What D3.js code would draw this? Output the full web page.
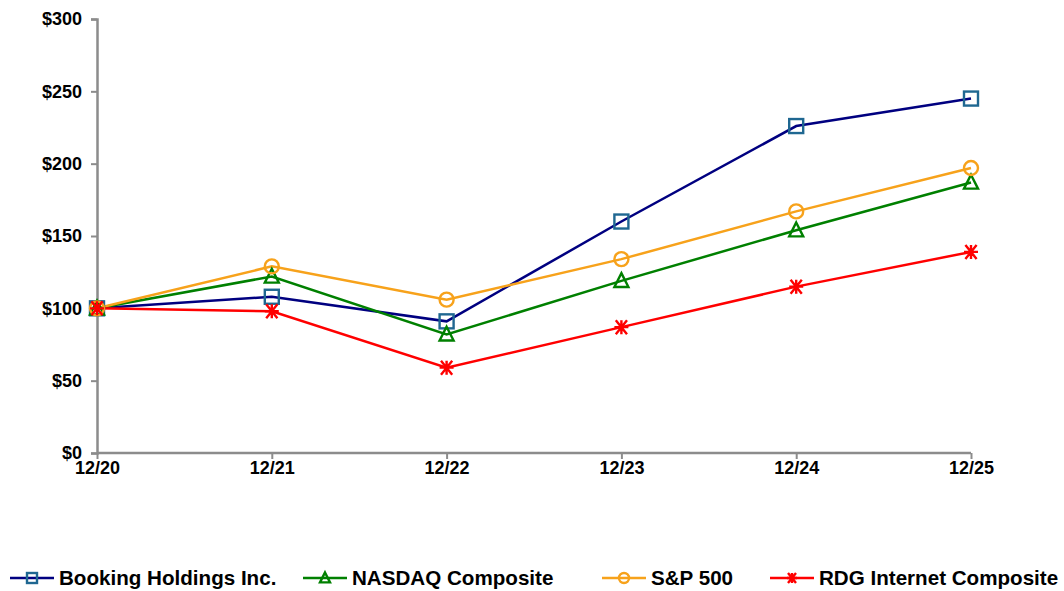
<!DOCTYPE html>
<html><head><meta charset="utf-8">
<script src="https://cdn.jsdelivr.net/npm/d3@7"></script>
<style>
html,body{margin:0;padding:0;background:#fff;}
text{font-family:"Liberation Sans",Arial,sans-serif;font-weight:bold;fill:#000;}
</style></head>
<body><svg id="chart" width="1064" height="591"></svg>
<script>
const categories = ["12/20","12/21","12/22","12/23","12/24","12/25"];
const booking = [100, 108, 91, 160, 226, 245];
const nasdaq  = [100, 122, 82, 119, 154, 187];
const sp500   = [100, 129, 106, 134, 167, 197];
const rdg     = [100, 98, 59, 87, 115, 139];
const yTicks  = [0, 50, 100, 150, 200, 250, 300];
const seriesNames = ["Booking Holdings Inc.", "NASDAQ Composite", "S&P 500", "RDG Internet Composite"];

const series = [
  {name: seriesNames[0], values: booking, line: "#000080", mark: "#1f6791", shape: "square"},
  {name: seriesNames[1], values: nasdaq,  line: "#008000", mark: "#008000", shape: "triangle"},
  {name: seriesNames[2], values: sp500,   line: "#f7a21b", mark: "#f7a21b", shape: "circle"},
  {name: seriesNames[3], values: rdg,     line: "#ff0000", mark: "#ff0000", shape: "star"}
];

const svg = d3.select("#chart");
const x = d3.scalePoint().domain(categories).range([97, 971]);
const y = d3.scaleLinear().domain([0, 300]).range([453, 19]);

const fontFam = "Liberation Sans, Arial, sans-serif";
const yAxis = d3.axisLeft(y).tickValues(yTicks).tickFormat(d => "$" + d).tickSize(6).tickPadding(9);
const gy = svg.append("g").attr("transform", "translate(97,0)").call(yAxis);
gy.select(".domain").attr("stroke", "#8c8c8c").attr("stroke-width", 2.5);
gy.selectAll(".tick line").attr("stroke", "#8c8c8c").attr("stroke-width", 2);
gy.selectAll(".tick text").style("font-size", "18px").style("font-weight", "bold").style("font-family", fontFam).attr("fill", "#000");

const xAxis = d3.axisBottom(x).tickSize(6).tickPadding(2);
const gx = svg.append("g").attr("transform", "translate(0,453)").call(xAxis);
gx.select(".domain").attr("stroke", "#8c8c8c").attr("stroke-width", 2.5).attr("d", "M97,0H971");
gx.selectAll(".tick line").attr("stroke", "#8c8c8c").attr("stroke-width", 2);
gx.selectAll(".tick text").style("font-size", "18px").style("font-weight", "bold").style("font-family", fontFam).attr("fill", "#000");

function drawMarker(g, shape, color, cx, cy, s) {
  if (shape === "square") {
    g.append("rect").attr("x", cx - s).attr("y", cy - s).attr("width", 2*s).attr("height", 2*s)
      .attr("fill", "none").attr("stroke", color).attr("stroke-width", 2.4);
  } else if (shape === "triangle") {
    const h = s * 1.1;
    g.append("path").attr("d", `M${cx},${cy - h}L${cx + s},${cy + h*0.8}L${cx - s},${cy + h*0.8}Z`)
      .attr("fill", "none").attr("stroke", color).attr("stroke-width", 2.4);
  } else if (shape === "circle") {
    g.append("circle").attr("cx", cx).attr("cy", cy).attr("r", s)
      .attr("fill", "none").attr("stroke", color).attr("stroke-width", 2.4);
  } else if (shape === "star") {
    const p = [];
    p.push(`M${cx - s},${cy}L${cx + s},${cy}`);
    const a = s * 0.8;
    p.push(`M${cx - a},${cy - s}L${cx + a},${cy + s}`);
    p.push(`M${cx - a},${cy + s}L${cx + a},${cy - s}`);
    p.push(`M${cx},${cy - s}L${cx},${cy + s}`);
    g.append("path").attr("d", p.join("")).attr("stroke", color).attr("stroke-width", 2.4).attr("fill", "none");
  }
}

const line = d3.line().x((d, i) => x(categories[i])).y(d => y(d));
series.forEach(s => {
  svg.append("path").datum(s.values).attr("d", line).attr("fill", "none")
    .attr("stroke", s.line).attr("stroke-width", 2.5);
});
series.forEach(s => {
  const g = svg.append("g");
  s.values.forEach((v, i) => drawMarker(g, s.shape, s.mark, x(categories[i]), y(v), 7));
});

// legend
const legendX = [10, 303, 602, 770];
const ly = 578;
series.forEach((s, i) => {
  const g = svg.append("g");
  const x0 = legendX[i];
  g.append("line").attr("x1", x0).attr("x2", x0 + 44).attr("y1", ly).attr("y2", ly)
    .attr("stroke", s.line).attr("stroke-width", 2.5);
  drawMarker(g, s.shape, s.mark, x0 + 22, ly, 5);
  g.append("text").attr("x", x0 + 49).attr("y", ly + 7).style("font-size", "20.6px").text(s.name);
});
</script></body></html>
